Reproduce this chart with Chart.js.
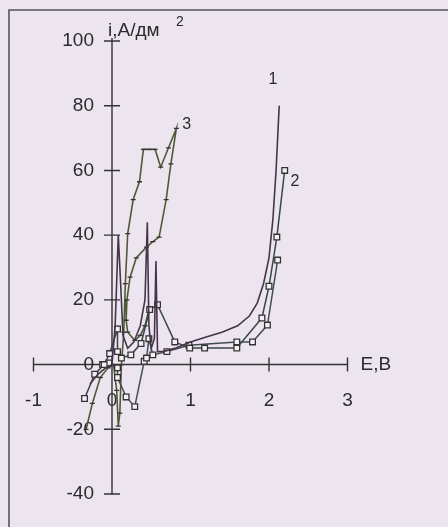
<!DOCTYPE html>
<html lang="ru">
<head>
<meta charset="UTF-8">
<title>i - E</title>
<script src="https://cdn.jsdelivr.net/npm/chart.js"></script>
<style>
    body {
        margin: 0;
        background-color: #ece4ee;
    }
    .wrap {
        position: relative;
        width: 448px;
        height: 527px;
    }
</style>
</head>
<body>
<div class="wrap"><canvas id="chart"></canvas></div>
<script>
// tick labels
const xTicks = [-1, 0, 1, 2, 3];
const yTicks = [-40, -20, 0, 20, 40, 60, 80, 100];

// curve 1 (plain line)
const e1 = [-0.28, -0.18, -0.08, 0.0, 0.04, 0.08, 0.11, 0.14, 0.2, 0.28, 0.36, 0.42, 0.45, 0.47, 0.5, 0.54, 0.56, 0.58, 0.65, 0.8, 1.0, 1.2, 1.4, 1.6, 1.75, 1.85, 1.93, 2.0, 2.05, 2.09, 2.13];
const i1 = [-6, -3, -1, 0, 12, 40, 25, 9, 5, 7, 12, 20, 44, 12, 5, 8, 32, 4, 4, 5, 7, 8.5, 10, 12, 15, 19, 25, 33, 45, 60, 80];

// curve 2 (squares)
const e2 = [-0.35, -0.22, -0.1, -0.03, 0.07, 0.07, 0.12, 0.24, 0.37, 0.48, 0.58, 0.8, 0.99, 1.18, 1.59, 1.91, 2.0, 2.1, 2.2];
const i2 = [-10.5, -3, 0, 3.4, 11, 4, 2, 3, 6.5, 17, 18.5, 7, 5.1, 5.1, 5.1, 14.4, 24.2, 39.4, 60];

// second squared curve (no label)
const e2b = [-0.12, -0.04, 0.07, 0.07, 0.18, 0.29, 0.41, 0.44, 0.47, 0.52, 0.7, 0.98, 1.59, 1.79, 1.98, 2.11];
const i2b = [0, 0.5, -1, -4, -10, -13, 1, 2, 8, 3, 4, 6, 7, 7, 12.2, 32.3];

// curve 3 (tick marks)
const e3 = [-0.33, -0.25, -0.15, -0.05, 0.02, 0.06, 0.08, 0.1, 0.12, 0.15, 0.17, 0.2, 0.27, 0.35, 0.4, 0.47, 0.55, 0.62, 0.72, 0.82, 0.75, 0.69, 0.6, 0.52, 0.44, 0.31, 0.23, 0.19, 0.18, 0.2, 0.29, 0.36, 0.42, 0.47];
const i3 = [-20, -12, -4, -1, 0, -8, -19, -15, 0, 10, 25, 40.5, 51, 56.5, 66.5, 66.5, 66.5, 61, 67, 73, 62, 51, 39.4, 38, 36.3, 33, 27, 20, 13.7, 10, 7.5, 9, 12, 17];

// curve numbers
const curveNames = ['1', '2', '3'];
const nameE = [2.05, 2.33, 0.95];
const nameI = [88, 56.4, 74.3];

const toPoints = (es, is) => es.map((e, k) => ({ x: e, y: is[k] }));
const FONT = '"Liberation Sans", Arial, sans-serif';

// axes crossing at the origin, drawn from the chart's own scales
const crossAxes = {
    id: 'crossAxes',
    beforeDatasetsDraw(chart) {
        const { ctx, scales: { x, y } } = chart;
        const x0 = x.getPixelForValue(0), y0 = y.getPixelForValue(0);
        ctx.save();
        // page frame
        ctx.strokeStyle = '#555';
        ctx.lineWidth = 1.6;
        ctx.beginPath();
        ctx.moveTo(9, chart.height);
        ctx.lineTo(9, 10);
        ctx.lineTo(chart.width, 10);
        ctx.stroke();

        ctx.strokeStyle = '#333';
        ctx.lineWidth = 1.4;
        ctx.beginPath();
        ctx.moveTo(x.getPixelForValue(xTicks[0]), y0);
        ctx.lineTo(x.getPixelForValue(xTicks[xTicks.length - 1]), y0);
        ctx.moveTo(x0, y.getPixelForValue(yTicks[0]));
        ctx.lineTo(x0, y.getPixelForValue(yTicks[yTicks.length - 1]) - 3);
        xTicks.forEach(v => {
            const p = x.getPixelForValue(v);
            ctx.moveTo(p, y0 - 7);
            ctx.lineTo(p, y0 + 7);
        });
        yTicks.forEach(v => {
            const p = y.getPixelForValue(v);
            ctx.moveTo(x0 - 8, p);
            ctx.lineTo(x0 + 8, p);
        });
        ctx.stroke();

        ctx.fillStyle = '#2b2b2b';
        ctx.font = '19px ' + FONT;
        ctx.textBaseline = 'middle';
        ctx.textAlign = 'center';
        xTicks.forEach(v => ctx.fillText(String(v), x.getPixelForValue(v), y0 + 36));
        ctx.textAlign = 'right';
        yTicks.forEach(v => ctx.fillText(String(v), x0 - 18, y.getPixelForValue(v)));

        // axis titles
        ctx.textAlign = 'left';
        ctx.fillText('E,B', x.getPixelForValue(xTicks[xTicks.length - 1]) + 13, y0);
        ctx.textBaseline = 'alphabetic';
        ctx.fillText('i,A/дм', x0 - 4, y.getPixelForValue(yTicks[yTicks.length - 1]) - 5);
        ctx.font = '14px ' + FONT;
        ctx.fillText('2', x0 + 64, y.getPixelForValue(yTicks[yTicks.length - 1]) - 15);
        ctx.restore();
    },
    afterDatasetsDraw(chart) {
        const { ctx, scales: { x, y } } = chart;
        ctx.save();
        ctx.fillStyle = '#2b2b2b';
        ctx.font = '16px ' + FONT;
        ctx.textAlign = 'center';
        ctx.textBaseline = 'middle';
        curveNames.forEach((n, k) => ctx.fillText(n, x.getPixelForValue(nameE[k]), y.getPixelForValue(nameI[k])));
        ctx.restore();
    }
};

new Chart(document.getElementById('chart').getContext('2d'), {
    type: 'scatter',
    data: {
        datasets: [
            {
                label: '1',
                data: toPoints(e1, i1),
                showLine: true,
                borderColor: '#45354a',
                borderWidth: 1.6,
                pointRadius: 0
            },
            {
                label: '2',
                data: toPoints(e2, i2),
                showLine: true,
                borderColor: '#384646',
                borderWidth: 1.5,
                pointStyle: 'rect',
                pointRadius: 4,
                pointBackgroundColor: '#f4eef5',
                pointBorderColor: '#333',
                pointBorderWidth: 1.3
            },
            {
                label: '2b',
                data: toPoints(e2b, i2b),
                showLine: true,
                borderColor: '#434d55',
                borderWidth: 1.5,
                pointStyle: 'rect',
                pointRadius: 4,
                pointBackgroundColor: '#f4eef5',
                pointBorderColor: '#333',
                pointBorderWidth: 1.3
            },
            {
                label: '3',
                data: toPoints(e3, i3),
                showLine: true,
                borderColor: '#4f5a34',
                borderWidth: 1.6,
                pointStyle: 'line',
                pointRadius: 2.5,
                pointBorderColor: '#333',
                pointBorderWidth: 1.3
            }
        ]
    },
    options: {
        responsive: true,
        maintainAspectRatio: false,
        animation: false,
        layout: { padding: { left: 33.5, right: 100.5, top: 41, bottom: 33 } },
        scales: {
            x: { type: 'linear', min: -1, max: 3, display: false },
            y: { type: 'linear', min: -40, max: 100, display: false }
        },
        plugins: {
            legend: { display: false },
            tooltip: { enabled: false }
        }
    },
    plugins: [crossAxes]
});
</script>
</body>
</html>
